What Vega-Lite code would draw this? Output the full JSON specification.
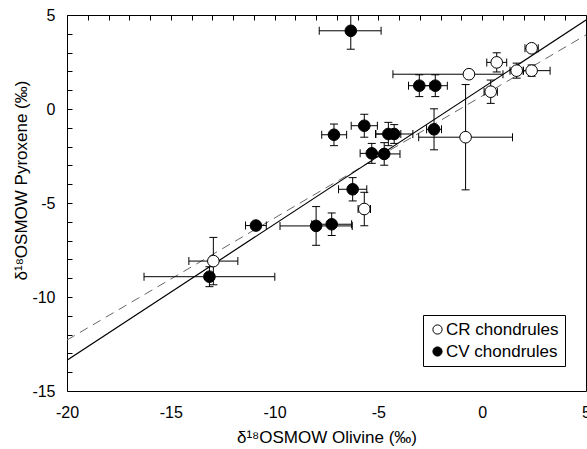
{
  "$schema": "https://vega.github.io/schema/vega-lite/v6.json",
  "width": 519,
  "height": 376,
  "autosize": {"type": "none"},
  "padding": {"left": 67, "top": 15, "right": 1, "bottom": 58},
  "config": {
    "font": "Liberation Sans",
    "view": {"stroke": "black", "strokeWidth": 1},
    "axis": {
      "domain": false, "ticks": false,
      "grid": true, "gridColor": "black", "gridOpacity": 1, "gridWidth": 1, "gridDash": [5, 3000],
      "labelColor": "black", "titleColor": "black",
      "labelFontSize": 16, "titleFontSize": 17, "titleFontWeight": "normal",
      "labelOverlap": false, "labelFlush": false, "labelBound": false
    }
  },
  "datasets": {
    "pts": [
      {"type": "CV chondrules", "x": -6.33, "y": 4.16, "xlo": -7.85, "xhi": -4.87, "ylo": 3.18, "yhi": 5.14},
      {"type": "CV chondrules", "x": -7.14, "y": -1.37, "xlo": -7.73, "xhi": -6.53, "ylo": -1.95, "yhi": -0.80},
      {"type": "CV chondrules", "x": -5.68, "y": -0.89, "xlo": -6.31, "xhi": -5.05, "ylo": -1.50, "yhi": -0.28},
      {"type": "CV chondrules", "x": -4.52, "y": -1.33, "xlo": -5.12, "xhi": -3.92, "ylo": -1.95, "yhi": -0.71},
      {"type": "CV chondrules", "x": -4.24, "y": -1.33, "xlo": -5.14, "xhi": -3.34, "ylo": -1.83, "yhi": -0.83},
      {"type": "CV chondrules", "x": -3.03, "y": 1.24, "xlo": -3.55, "xhi": -2.51, "ylo": 0.66, "yhi": 1.82},
      {"type": "CV chondrules", "x": -2.26, "y": 1.24, "xlo": -2.84, "xhi": -1.68, "ylo": 0.66, "yhi": 1.82},
      {"type": "CV chondrules", "x": -2.32, "y": -1.08, "xlo": -2.68, "xhi": -1.96, "ylo": -2.17, "yhi": 0.01},
      {"type": "CV chondrules", "x": -5.32, "y": -2.36, "xlo": -5.88, "xhi": -4.76, "ylo": -2.89, "yhi": -1.83},
      {"type": "CV chondrules", "x": -4.72, "y": -2.39, "xlo": -5.48, "xhi": -3.96, "ylo": -2.99, "yhi": -1.79},
      {"type": "CV chondrules", "x": -6.24, "y": -4.27, "xlo": -6.92, "xhi": -5.56, "ylo": -4.89, "yhi": -3.65},
      {"type": "CV chondrules", "x": -7.25, "y": -6.13, "xlo": -8.21, "xhi": -6.29, "ylo": -6.73, "yhi": -5.53},
      {"type": "CV chondrules", "x": -8.0, "y": -6.22, "xlo": -9.74, "xhi": -6.26, "ylo": -7.25, "yhi": -5.19},
      {"type": "CV chondrules", "x": -10.9, "y": -6.2, "xlo": -11.4, "xhi": -10.4, "ylo": -6.4, "yhi": -6.0},
      {"type": "CV chondrules", "x": -13.14, "y": -8.92, "xlo": -16.29, "xhi": -9.99, "ylo": -9.45, "yhi": -8.39},
      {"type": "CR chondrules", "x": 2.38, "y": 3.23, "xlo": 2.06, "xhi": 2.70, "ylo": 3.08, "yhi": 3.38},
      {"type": "CR chondrules", "x": 0.70, "y": 2.48, "xlo": 0.22, "xhi": 1.18, "ylo": 1.97, "yhi": 2.99},
      {"type": "CR chondrules", "x": -0.64, "y": 1.85, "xlo": -4.30, "xhi": 1.00, "ylo": 1.70, "yhi": 2.00},
      {"type": "CR chondrules", "x": 1.66, "y": 2.04, "xlo": 1.34, "xhi": 1.98, "ylo": 1.64, "yhi": 2.44},
      {"type": "CR chondrules", "x": 2.38, "y": 2.04, "xlo": 1.98, "xhi": 3.27, "ylo": 1.74, "yhi": 2.34},
      {"type": "CR chondrules", "x": 0.41, "y": 0.92, "xlo": 0.09, "xhi": 0.73, "ylo": 0.30, "yhi": 1.54},
      {"type": "CR chondrules", "x": -0.80, "y": -1.50, "xlo": -3.06, "xhi": 1.46, "ylo": -4.30, "yhi": 1.30},
      {"type": "CR chondrules", "x": -5.68, "y": -5.32, "xlo": -5.98, "xhi": -5.38, "ylo": -6.21, "yhi": -4.43},
      {"type": "CR chondrules", "x": -12.95, "y": -8.09, "xlo": -14.13, "xhi": -11.77, "ylo": -9.35, "yhi": -6.83}
    ],
    "fits": [
      {"fit": "solid", "x": -20, "y": -13.36},
      {"fit": "solid", "x": 5, "y": 4.73},
      {"fit": "dashed", "x": -20, "y": -12.29},
      {"fit": "dashed", "x": 5, "y": 3.94}
    ]
  },
  "layer": [
    {
      "data": {"name": "fits"},
      "transform": [{"filter": "datum.fit === 'dashed'"}],
      "mark": {"type": "line", "color": "#666666", "strokeWidth": 1, "strokeDash": [9, 6], "clip": true},
      "encoding": {
        "x": {"field": "x", "type": "quantitative", "scale": {"domain": [-20, 5], "nice": false, "zero": false},
          "axis": {"orient": "bottom",
            "values": [-20,-19,-18,-17,-16,-15,-14,-13,-12,-11,-10,-9,-8,-7,-6,-5,-4,-3,-2,-1,0,1,2,3,4,5],
            "labelExpr": "datum.value % 5 === 0 ? '' + datum.value : ''", "labelPadding": 13,
            "title": "δ¹⁸OSMOW  Olivine (‰)", "titleY": 46, "titleBaseline": "middle"}},
        "y": {"field": "y", "type": "quantitative", "scale": {"domain": [-15, 5], "nice": false, "zero": false},
          "axis": {"orient": "left",
            "values": [-15,-14,-13,-12,-11,-10,-9,-8,-7,-6,-5,-4,-3,-2,-1,0,1,2,3,4,5],
            "labelExpr": "datum.value % 5 === 0 ? '' + datum.value : ''", "labelPadding": 12,
            "title": "δ¹⁸OSMOW  Pyroxene (‰)", "titleX": -46, "titleY": 165, "titleAngle": -90,
            "titleAlign": "center", "titleBaseline": "middle"}}
      }
    },
    {
      "data": {"name": "fits"},
      "transform": [{"filter": "datum.fit === 'solid'"}],
      "mark": {"type": "line", "color": "black", "strokeWidth": 1.2, "clip": true},
      "encoding": {
        "x": {"field": "x", "type": "quantitative", "axis": {"orient": "top", "labels": false, "title": null,
          "values": [-20,-19,-18,-17,-16,-15,-14,-13,-12,-11,-10,-9,-8,-7,-6,-5,-4,-3,-2,-1,0,1,2,3,4,5]}},
        "y": {"field": "y", "type": "quantitative", "axis": {"orient": "right", "labels": false, "title": null,
          "values": [-15,-14,-13,-12,-11,-10,-9,-8,-7,-6,-5,-4,-3,-2,-1,0,1,2,3,4,5]}}
      }
    },
    {
      "data": {"name": "pts"},
      "mark": {"type": "rule", "color": "black", "strokeWidth": 1, "clip": true},
      "encoding": {
        "x": {"field": "xlo", "type": "quantitative", "axis": null},
        "x2": {"field": "xhi"},
        "y": {"field": "y", "type": "quantitative", "axis": null}
      }
    },
    {
      "data": {"name": "pts"},
      "mark": {"type": "rule", "color": "black", "strokeWidth": 1, "clip": true},
      "encoding": {
        "x": {"field": "x", "type": "quantitative", "axis": null},
        "y": {"field": "ylo", "type": "quantitative", "axis": null},
        "y2": {"field": "yhi"}
      }
    },
    {
      "data": {"name": "pts"},
      "mark": {"type": "tick", "orient": "vertical", "color": "black", "size": 8, "thickness": 1, "opacity": 1, "clip": true},
      "encoding": {
        "x": {"field": "xlo", "type": "quantitative", "axis": null},
        "y": {"field": "y", "type": "quantitative", "axis": null}
      }
    },
    {
      "data": {"name": "pts"},
      "mark": {"type": "tick", "orient": "vertical", "color": "black", "size": 8, "thickness": 1, "opacity": 1, "clip": true},
      "encoding": {
        "x": {"field": "xhi", "type": "quantitative", "axis": null},
        "y": {"field": "y", "type": "quantitative", "axis": null}
      }
    },
    {
      "data": {"name": "pts"},
      "mark": {"type": "tick", "orient": "horizontal", "color": "black", "size": 8, "thickness": 1, "opacity": 1, "clip": true},
      "encoding": {
        "x": {"field": "x", "type": "quantitative", "axis": null},
        "y": {"field": "ylo", "type": "quantitative", "axis": null}
      }
    },
    {
      "data": {"name": "pts"},
      "mark": {"type": "tick", "orient": "horizontal", "color": "black", "size": 8, "thickness": 1, "opacity": 1, "clip": true},
      "encoding": {
        "x": {"field": "x", "type": "quantitative", "axis": null},
        "y": {"field": "yhi", "type": "quantitative", "axis": null}
      }
    },
    {
      "data": {"name": "pts"},
      "mark": {"type": "point", "shape": "circle", "filled": true, "stroke": "black", "strokeWidth": 1, "size": 135, "opacity": 1, "clip": true},
      "encoding": {
        "x": {"field": "x", "type": "quantitative", "axis": null},
        "y": {"field": "y", "type": "quantitative", "axis": null},
        "fill": {"field": "type", "type": "nominal",
          "scale": {"domain": ["CR chondrules", "CV chondrules"], "range": ["white", "black"]},
          "legend": {"title": null, "orient": "none", "legendX": 356, "legendY": 300,
            "strokeColor": "black", "fillColor": "white", "padding": 6,
            "labelFontSize": 17, "labelColor": "black", "labelOffset": 0,
            "symbolType": "circle", "symbolSize": 85, "symbolStrokeColor": "black", "symbolStrokeWidth": 1,
            "rowPadding": 4}}
      }
    },
    {
      "mark": {"type": "text", "fontSize": 17, "fontWeight": "bold", "color": "black", "align": "center", "baseline": "middle"},
      "encoding": {
        "x": {"datum": -18.94, "type": "quantitative", "axis": null},
        "y": {"datum": 3.94, "type": "quantitative", "axis": null},
        "text": {"value": "A"}
      }
    }
  ],
  "resolve": {"axis": {"x": "independent", "y": "independent"}}
}
